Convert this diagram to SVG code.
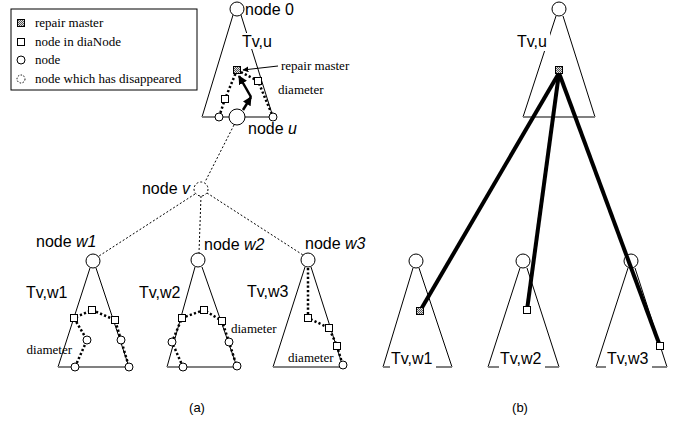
<svg xmlns="http://www.w3.org/2000/svg" width="680" height="421" viewBox="0 0 680 421">
<defs>
<pattern id="hatch" width="2" height="2" patternUnits="userSpaceOnUse"><rect width="2" height="2" fill="#e0e0e0"/><rect width="1" height="1" fill="#555"/><rect x="1" y="1" width="1" height="1" fill="#555"/></pattern>
<marker id="ah" viewBox="0 0 10 10" refX="9" refY="5" markerWidth="9" markerHeight="9" markerUnits="userSpaceOnUse" orient="auto"><path d="M0,0 L10,5 L0,10 z" fill="#000"/></marker>
<marker id="ahs" viewBox="0 0 10 10" refX="9" refY="5" markerWidth="6" markerHeight="6" markerUnits="userSpaceOnUse" orient="auto"><path d="M0,0 L10,5 L0,10 z" fill="#000"/></marker>
<style>
.t{fill:none;stroke:#000;stroke-width:1}
.b{stroke:#808080;stroke-width:2}
.n{fill:#fff;stroke:#000;stroke-width:1}
.nd{fill:#fff;stroke:#000;stroke-width:1;stroke-dasharray:2,2}
.sq{fill:#fff;stroke:#000;stroke-width:1}
.rm{fill:url(#hatch);stroke:#000;stroke-width:1}
.dia{fill:none;stroke:#000;stroke-width:2.5;stroke-dasharray:2.2,2.2}
.dl{fill:none;stroke:#000;stroke-width:1;stroke-dasharray:2,2}
.th{stroke:#000;stroke-width:4}
.ar{stroke:#000;stroke-width:2.5;fill:none}
.s{font-family:"Liberation Sans",Arial,sans-serif;font-size:16px;fill:#000}
.r{font-family:"Liberation Serif","Times New Roman",serif;font-size:13px;fill:#000}
.c{font-family:"Liberation Sans",Arial,sans-serif;font-size:13px;fill:#000}
.wb{fill:#fff}
</style>
</defs>
<rect width="680" height="421" fill="#fff"/>

<g id="legend">
<rect x="11" y="9" width="186" height="81" fill="#fff" stroke="#000" stroke-width="1"/>
<rect class="rm" x="17.5" y="19.5" width="7" height="7"/>
<text class="r" x="35" y="27">repair master</text>
<rect class="sq" x="17.5" y="38.5" width="7" height="7"/>
<text class="r" x="35" y="46">node in diaNode</text>
<circle class="n" cx="21" cy="60" r="4"/>
<text class="r" x="35" y="64">node</text>
<circle class="nd" cx="21" cy="79" r="4" style="stroke-dasharray:1.5,1.5"/>
<text class="r" x="35" y="83">node which has disappeared</text>
</g>

<g id="connectors">
<line class="dl" x1="234" y1="125" x2="205" y2="182"/>
<line class="dl" x1="195" y1="194" x2="99" y2="256"/>
<line class="dl" x1="201" y1="196" x2="199" y2="253"/>
<line class="dl" x1="207" y1="193" x2="303" y2="255"/>
</g>

<g id="tree-u-a">
<line class="t" x1="233" y1="15" x2="202" y2="117"/>
<line class="t" x1="241" y1="15" x2="273" y2="117"/>
<line class="b" x1="202" y1="117" x2="273" y2="117"/>
<rect class="wb" x="242" y="33" width="32" height="16"/>
<text class="s" x="242" y="47">Tv,u</text>
<circle class="n" cx="237" cy="9" r="7"/>
<text class="s" x="245" y="15">node 0</text>
<polyline class="dia" points="219,117 225,99 237,70"/>
<polyline class="dia" points="237,70 258,81 273,117"/>
<line class="ar" x1="243" y1="110" x2="251" y2="97" marker-end="url(#ah)"/>
<line class="ar" x1="251" y1="97" x2="239" y2="76" marker-end="url(#ah)"/>
<rect class="rm" x="233.5" y="66.5" width="7" height="7"/>
<rect class="sq" x="254.5" y="77.5" width="7" height="7"/>
<rect class="sq" x="221.5" y="95.5" width="7" height="7"/>
<circle class="n" cx="219" cy="117" r="4"/>
<circle class="n" cx="273" cy="117" r="4"/>
<circle class="n" cx="237" cy="117" r="8"/>
<line x1="278" y1="66" x2="243" y2="70" stroke="#000" stroke-width="1" marker-end="url(#ahs)"/>
<text class="r" x="281" y="70">repair master</text>
<text class="r" x="278" y="94">diameter</text>
<text class="s" x="248" y="134">node <tspan font-style="italic">u</tspan></text>
</g>

<g id="node-v">
<circle class="nd" cx="201" cy="189" r="7"/>
<text class="s" x="190" y="194" text-anchor="end">node <tspan font-style="italic">v</tspan></text>
</g>

<g id="tree-w1-a">
<line class="t" x1="90" y1="268" x2="58" y2="367"/>
<line class="t" x1="96" y1="268" x2="129" y2="367"/>
<line class="b" x1="58" y1="367" x2="129" y2="367"/>
<circle class="n" cx="93" cy="261" r="7"/>
<text class="s" x="36" y="247">node <tspan font-style="italic">w1</tspan></text>
<text class="s" x="26" y="298">Tv,w1</text>
<polyline class="dia" points="75,367 87,340 74,318 92,310 115,320 121,340 129,367"/>
<rect class="sq" x="70.5" y="314.5" width="7" height="7"/>
<rect class="sq" x="88.5" y="306.5" width="7" height="7"/>
<rect class="sq" x="111.5" y="316.5" width="7" height="7"/>
<circle class="n" cx="87" cy="340" r="4"/>
<circle class="n" cx="121" cy="340" r="4"/>
<circle class="n" cx="75" cy="367" r="4"/>
<circle class="n" cx="129" cy="367" r="4"/>
<text class="r" x="72" y="354" text-anchor="end">diameter</text>
</g>

<g id="tree-w2-a">
<line class="t" x1="195" y1="267" x2="167" y2="367"/>
<line class="t" x1="202" y1="267" x2="237" y2="367"/>
<line class="b" x1="167" y1="367" x2="237" y2="367"/>
<circle class="n" cx="198" cy="260" r="7"/>
<text class="s" x="204" y="250">node <tspan font-style="italic">w2</tspan></text>
<text class="s" x="139" y="298">Tv,w2</text>
<polyline class="dia" points="183,367 172,342 182,318 204,310 222,321 229,342 237,367"/>
<rect class="sq" x="178.5" y="314.5" width="7" height="7"/>
<rect class="sq" x="200.5" y="306.5" width="7" height="7"/>
<rect class="sq" x="218.5" y="317.5" width="7" height="7"/>
<circle class="n" cx="172" cy="342" r="4"/>
<circle class="n" cx="229" cy="342" r="4"/>
<circle class="n" cx="183" cy="367" r="4"/>
<circle class="n" cx="237" cy="366" r="4"/>
<text class="r" x="231" y="333">diameter</text>
</g>

<g id="tree-w3-a">
<line class="t" x1="305" y1="267" x2="273" y2="367"/>
<line class="t" x1="311" y1="267" x2="343" y2="367"/>
<line class="b" x1="273" y1="367" x2="343" y2="367"/>
<circle class="n" cx="308" cy="260" r="7"/>
<text class="s" x="305" y="249">node <tspan font-style="italic">w3</tspan></text>
<text class="s" x="247" y="297">Tv,w3</text>
<polyline class="dia" points="308,268 308,318 329,328 337,346 343,366"/>
<rect class="sq" x="304.5" y="314.5" width="7" height="7"/>
<rect class="sq" x="325.5" y="324.5" width="7" height="7"/>
<rect class="sq" x="333.5" y="342.5" width="7" height="7"/>
<circle class="n" cx="343" cy="365" r="4"/>
<text class="r" x="288" y="362">diameter</text>
</g>

<g id="tree-u-b">
<line class="t" x1="556" y1="16" x2="523" y2="117"/>
<line class="t" x1="563" y1="16" x2="595" y2="117"/>
<line class="b" x1="523" y1="117" x2="595" y2="117"/>
<rect class="wb" x="516" y="31" width="34" height="20"/>
<text class="s" x="517" y="47">Tv,u</text>
<circle class="n" cx="559" cy="9" r="7"/>
</g>

<g id="tree-w1-b">
<line class="t" x1="413" y1="268" x2="383" y2="367"/>
<line class="t" x1="419" y1="268" x2="452" y2="367"/>
<line class="b" x1="383" y1="367" x2="452" y2="367"/>
<circle class="n" cx="416" cy="261" r="7"/>
<rect class="wb" x="390" y="348" width="46" height="20"/>
<text class="s" x="391" y="364">Tv,w1</text>
</g>

<g id="tree-w2-b">
<line class="t" x1="520" y1="268" x2="488" y2="367"/>
<line class="t" x1="527" y1="268" x2="559" y2="367"/>
<line class="b" x1="488" y1="367" x2="559" y2="367"/>
<circle class="n" cx="523" cy="261" r="7"/>
<rect class="wb" x="499" y="348" width="46" height="20"/>
<text class="s" x="500" y="364">Tv,w2</text>
</g>

<g id="tree-w3-b">
<line class="t" x1="628" y1="268" x2="596" y2="367"/>
<line class="t" x1="635" y1="268" x2="667" y2="367"/>
<line class="b" x1="596" y1="367" x2="667" y2="367"/>
<circle class="n" cx="631" cy="261" r="7"/>
<rect class="wb" x="606" y="348" width="46" height="20"/>
<text class="s" x="607" y="364">Tv,w3</text>
</g>

<g id="links-b">
<line class="th" x1="559" y1="73" x2="420" y2="311"/>
<line class="th" x1="559" y1="73" x2="527" y2="310"/>
<line class="th" x1="559" y1="73" x2="660" y2="346"/>
<rect class="rm" x="555.5" y="66.5" width="7" height="7"/>
<rect class="rm" x="416.5" y="307.5" width="7" height="7"/>
<rect class="sq" x="523.5" y="306.5" width="7" height="7"/>
<rect class="sq" x="656.5" y="342.5" width="7" height="7"/>
</g>

<text class="c" x="197" y="412" text-anchor="middle">(a)</text>
<text class="c" x="520" y="412" text-anchor="middle">(b)</text>
</svg>
